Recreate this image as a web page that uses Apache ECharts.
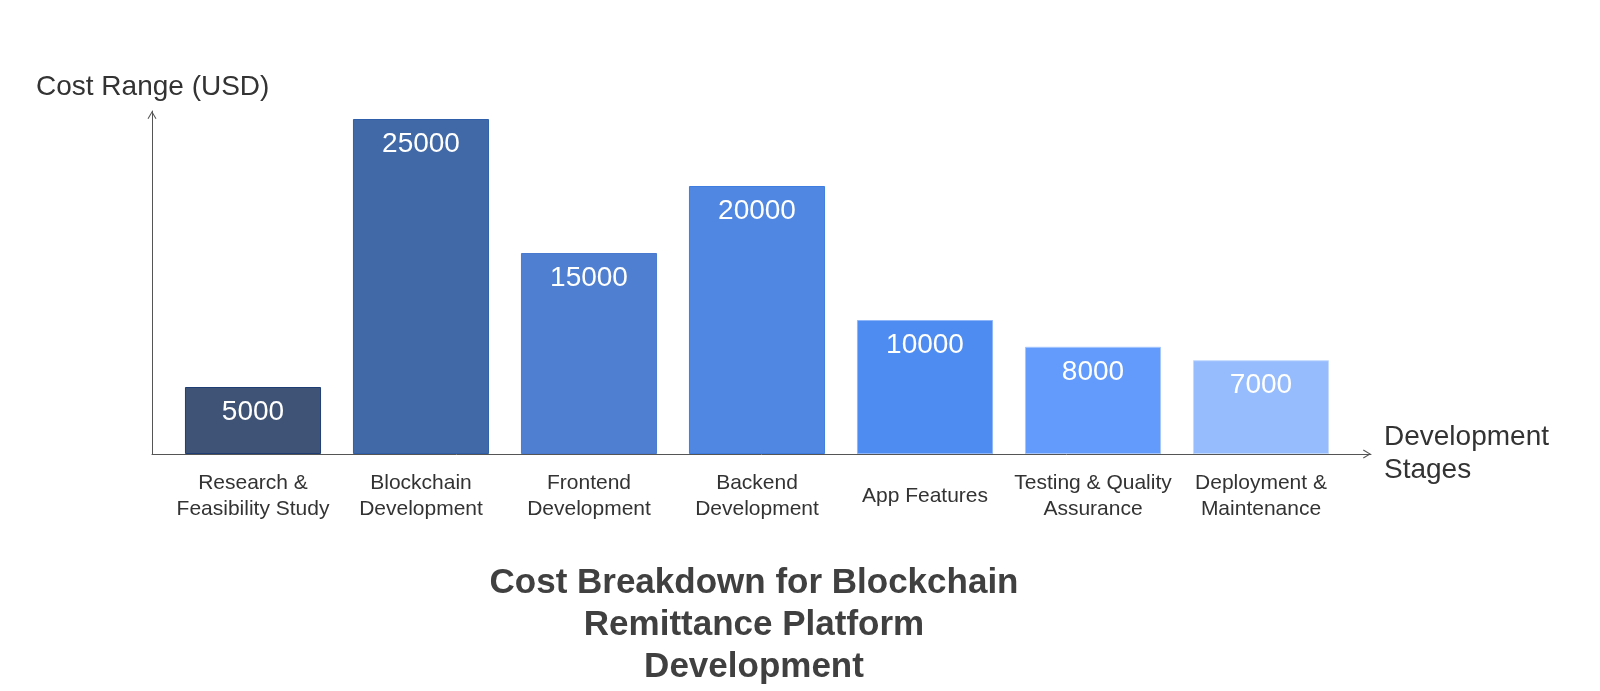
<!DOCTYPE html>
<html>
<head>
<meta charset="utf-8">
<script src="https://cdn.jsdelivr.net/npm/echarts@6/dist/echarts.min.js"></script>
<style>html,body{margin:0;padding:0;background:#fff}#c{width:1600px;height:691px}</style>
</head>
<body>
<div id="c"></div>
<script>
const categories = [
  "Research &\nFeasibility Study",
  "Blockchain\nDevelopment",
  "Frontend\nDevelopment",
  "Backend\nDevelopment",
  "App Features",
  "Testing & Quality\nAssurance",
  "Deployment &\nMaintenance"
];
const costs = [5000, 25000, 15000, 20000, 10000, 8000, 7000];
const barColors = ["#3f5377", "#4169a8", "#4f7fd1", "#4f87e2", "#4f8cf2", "#639bfd", "#97bcfd"];
const borderColors = ["#1f3d75", "#2f5fa8", "#4a7ad0", "#3f7de0", "#8fb6f8", "#a6c6fd", "#c4dafd"];
const titleText = "Cost Breakdown for Blockchain\nRemittance Platform\nDevelopment";
const yName = "Cost Range (USD)";
const xName = "Development\nStages";

const FONT = "Liberation Sans, Arial, sans-serif";
const chevron = 'path://M0,10 L6,0 L12,10 L10.8,10.8 L6,2.6 L1.2,10.8 Z';

const chart = echarts.init(document.getElementById('c'), null, {renderer: 'canvas'});
chart.setOption({
  animation: false,
  backgroundColor: '#ffffff',
  textStyle: {fontFamily: FONT},
  title: {
    text: titleText,
    left: 749, top: 557,
    textAlign: 'center',
    textStyle: {fontFamily: FONT, fontSize: 35, fontWeight: 'bold', color: '#404040', lineHeight: 42}
  },
  grid: [
    {left: 169, right: 255, top: 52, bottom: 237},
    {left: 152, right: 229, top: 111, bottom: 237}
  ],
  xAxis: [
    {
      type: 'category', gridIndex: 0, data: categories,
      axisLine: {show: false}, axisTick: {show: false},
      axisLabel: {fontFamily: FONT, fontSize: 21, color: '#333333', lineHeight: 26, verticalAlign: 'middle', margin: 42, interval: 0}
    },
    {
      type: 'value', gridIndex: 1, min: 0, max: 1,
      axisLine: {show: true, symbol: ['none', chevron], symbolSize: [14, 8], symbolOffset: [0, -4], lineStyle: {color: '#555555', width: 1}},
      axisTick: {show: false}, axisLabel: {show: false}, splitLine: {show: false},
      name: xName, nameLocation: 'end', nameGap: 13,
      nameTextStyle: {fontFamily: FONT, fontSize: 28, color: '#333333', lineHeight: 33, align: 'left', verticalAlign: 'middle', padding: [32, 0, 0, 0]}
    }
  ],
  yAxis: [
    {
      type: 'value', gridIndex: 0, min: 0, max: 30000,
      axisLine: {show: false}, axisTick: {show: false}, axisLabel: {show: false}, splitLine: {show: false}
    },
    {
      type: 'value', gridIndex: 1, min: 0, max: 1,
      axisLine: {show: true, symbol: ['none', chevron], symbolSize: [14, 8], symbolOffset: [0, -4], lineStyle: {color: '#555555', width: 1}},
      axisTick: {show: false}, axisLabel: {show: false}, splitLine: {show: false},
      name: yName, nameLocation: 'end', nameGap: 10,
      nameTextStyle: {fontFamily: FONT, fontSize: 28, color: '#333333', align: 'left', padding: [0, 0, 0, -116]}
    }
  ],
  series: [{
    type: 'bar', xAxisIndex: 0, yAxisIndex: 0,
    barCategoryGap: '19%',
    data: costs.map((v, i) => ({
      value: v,
      itemStyle: {color: barColors[i], borderColor: borderColors[i], borderWidth: 1}
    })),
    label: {
      show: true, position: 'insideTop', distance: 11,
      fontFamily: FONT, fontSize: 28, color: '#ffffff'
    }
  }]
});
</script>
</body>
</html>
